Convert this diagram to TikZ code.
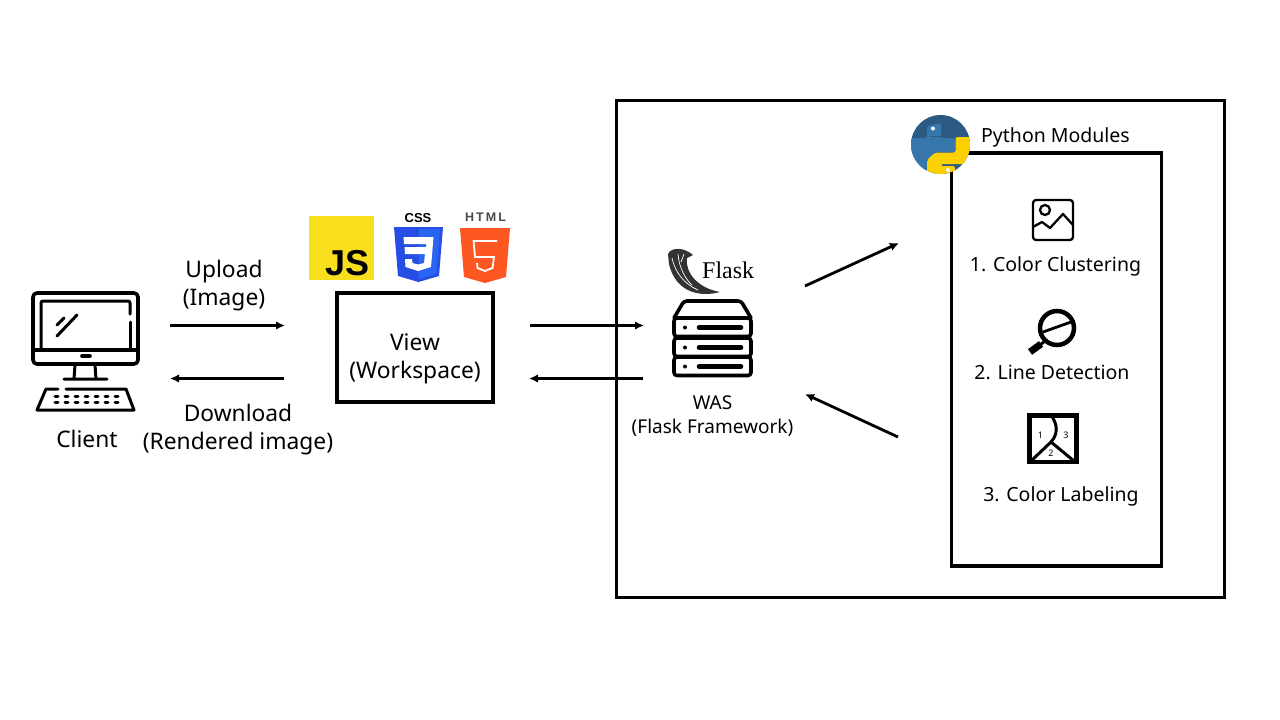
\documentclass[tikz,border=0pt]{standalone}
\usepackage{fontspec}
\setmainfont{Noto Sans}
\newfontfamily\flaskfont{Liberation Serif}
\newfontfamily\logofont{Liberation Sans}
\usetikzlibrary{arrows.meta}

\definecolor{jsyellow}{HTML}{F7DF1E}
\definecolor{cssblue}{HTML}{264DE4}
\definecolor{csslight}{HTML}{2965F1}
\definecolor{htmlorange}{HTML}{FF5722}
\definecolor{pydark}{HTML}{2B5B84}
\definecolor{pyblue}{HTML}{3776AB}
\definecolor{pyyellow}{HTML}{FBD000}

\begin{document}
\begin{tikzpicture}[
   x=1pt, y=-1pt,
   box/.style={draw, line width=3.4pt, minimum width=#1, inner sep=0pt},
   flow/.style={line width=2.8pt, -{Latex[length=9pt,width=8.5pt]}},
   icon/.style={line width=3.6pt, line join=round, line cap=round},
   biglabel/.style={align=center, font=\fontsize{22.8}{28}\selectfont, inner sep=0pt},
   smalllabel/.style={align=center, font=\fontsize{19.5}{24}\selectfont, inner sep=0pt},
   every node/.append style={text=black}
]
\useasboundingbox (0,0) rectangle (1280,720);
\fill[white] (0,0) rectangle (1280,720);

% frames
\node[box=608pt, minimum height=497pt] (server) at (920.5,349) {};
\node[box=210pt, minimum height=413pt] (modules) at (1056.5,359.5) {};
\node[box=156pt, minimum height=109pt] (view) at (415,347.5) {};
\node[biglabel] (viewlabel) at (415,358.5) {View \\ (Workspace)};

% client
\draw[icon, rounded corners=4pt] (33,350) -- (33,293) -- (138,293) -- (138,364) -- (33,364) -- cycle;
\draw[icon] (33,350) -- (138,350);
\draw[icon, line width=3pt, rounded corners=2pt] (41,350) -- (41,301) -- (130,301) -- (130,314);
\draw[icon, line width=3pt] (130,322) -- (130,350);
\draw[icon, line width=3pt] (57,336) -- (77,315) (57,325) -- (64,318);
\draw[icon] (82,356) -- (90,356);
\draw[icon, line width=3pt] (75,365) -- (74,379) (95,365) -- (96,379) (64,379) -- (107,379);
\draw[icon, line width=3pt] (58,389) -- (46,389) -- (37,410) -- (134,410) -- (126,389) -- (66,389);
\foreach \i in {0,...,6} {
   \draw[line width=3pt, line cap=round] (55+\i*10,396.5) -- (58+\i*10,396.5);
   \draw[line width=3pt, line cap=round] (55+\i*10,402.5) -- (58+\i*10,402.5);
}
\node[biglabel] (client) at (87,439) {Client};

% upload / download
\coordinate (uploadA) at (170,325.5);
\coordinate (uploadB) at (285,325.5);
\coordinate (downloadA) at (284,378.5);
\coordinate (downloadB) at (170,378.5);
\draw[flow] (uploadA) -- (uploadB);
\draw[flow] (downloadA) -- (downloadB);
\node[biglabel] (upload) at (224,285.5) {Upload \\ (Image)};
\node[biglabel] (download) at (238,429.5) {Download \\ (Rendered image)};

% web logos
\fill[jsyellow] (309,216) rectangle (374,280);
\node[anchor=base east, inner sep=0pt, font=\logofont\bfseries\fontsize{36}{36}\selectfont] (js) at (370,275) {JS};

\node[inner sep=0pt, font=\logofont\bfseries\fontsize{13}{13}\selectfont] (css) at (418,218) {CSS};
\fill[cssblue] (394,227) -- (443,227) -- (439,276) -- (418.5,282) -- (398,276) -- cycle;
\fill[csslight] (418.5,229) -- (440,229) -- (436.5,274) -- (418.5,279) -- cycle;
\fill[white] (403.5,237) -- (433.5,237) -- (431,267) -- (418,271) -- (405.5,267) -- (405,259) -- (412,259) -- (412.5,263) -- (418,264.5) -- (424,263) -- (425,254) -- (405,254) -- (404.5,247) -- (426,247) -- (426.5,244) -- (404,244) -- cycle;

\node[inner sep=0pt, text=black!70, font=\logofont\bfseries\fontsize{12.5}{12.5}\selectfont] (html) at (485.5,217) {H\,T\,M\,L};
\fill[htmlorange] (460,228) -- (510,228) -- (506,277) -- (485,283) -- (464,277) -- cycle;
\draw[white, line width=1.8pt] (497,241) -- (473.5,241) -- (475,257) -- (494,257) -- (492.5,268) -- (485,271) -- (477.5,268) -- (477,263);

% view <-> was
\coordinate (requestA) at (530,325.5);
\coordinate (requestB) at (644,325.5);
\coordinate (replyA) at (643,378.5);
\coordinate (replyB) at (529,378.5);
\draw[flow] (requestA) -- (requestB);
\draw[flow] (replyA) -- (replyB);

% flask
\fill[black!80] (668,254) .. controls (671,247) and (684,247) .. (693,255) -- (687,258) .. controls (685,272) and (697,288) .. (720,292) .. controls (702,297) and (676,294) .. (669,264) -- cycle;
\draw[white, line width=.7pt] (672,258) .. controls (675,272) and (684,284) .. (698,290);
\draw[white, line width=.7pt] (678,254) .. controls (679,268) and (686,280) .. (692,285);
\draw[white, line width=.7pt] (684,254) -- (681,262);
\node[anchor=base west, inner sep=0pt, font=\flaskfont\fontsize{24}{24}\selectfont] (flask) at (702,278) {Flask};

% was
\draw[icon, rounded corners=3pt] (674,318) -- (684,301) -- (741,301) -- (751,318);
\foreach \y in {318,338,357} {
   \draw[icon, rounded corners=3pt] (674,\y) rectangle (751,\y+18.5);
   \fill (685,\y+9.5) circle (2pt);
   \draw[icon, line width=4.5pt] (699,\y+9.5) -- (741,\y+9.5);
}
\node[inner sep=0pt, align=center, font=\fontsize{19}{24}\selectfont] (was) at (712.5,416) {WAS \\ (Flask Framework)};

% was <-> modules
\coordinate (sendA) at (805,286);
\coordinate (sendB) at (899,243);
\coordinate (returnA) at (898,437);
\coordinate (returnB) at (805,394);
\draw[flow] (sendA) -- (sendB);
\draw[flow] (returnA) -- (returnB);

% python
\begin{scope}
   \clip (940.5,144.5) circle (29.5pt);
   \fill[pydark] (911,115) rectangle (970,174);
   \fill[pyblue, rounded corners=2pt] (927,126) -- (941,123) -- (941,138) -- (955,138) -- (955,152) -- (935,152) -- (927,160) -- (927,170) -- (900,170) -- (900,138) -- (927,138) -- cycle;
   \fill[pyyellow, rounded corners=2pt] (955.5,137) -- (980,137) -- (980,164) -- (941,164) -- (941,166) -- (955,166) -- (955,180) -- (927,180) -- (927,160) -- (935,152.5) -- (955.5,152.5) -- cycle;
   \draw[pydark, line width=.8pt] (930,136.5) -- (941,136.5);
   \fill[white] (933,128.5) circle (2pt) (948,170) circle (2pt);
\end{scope}
\node[smalllabel] (python) at (1055.5,137) {Python Modules};

% color clustering
\draw[icon, line width=2.3pt, rounded corners=3pt] (1033,200) rectangle (1073,240);
\draw[icon, line width=2.3pt] (1045,210) circle (5pt);
\draw[icon, line width=2.3pt] (1033,227) -- (1042,222) -- (1050,228) -- (1063,214) -- (1073,225);
\node[smalllabel] (clustering) at (1055.5,266) {1. Color Clustering};

% line detection
\draw[line width=4.5pt] (1057,328) circle (17pt);
\draw[line width=2.8pt] (1043,332) -- (1071,322);
\draw[line width=3pt] (1045,341) -- (1040,345);
\draw[line width=7pt] (1041,344) -- (1030,352);
\node[smalllabel] (detection) at (1052,372) {2. Line Detection};

% color labeling
\draw[line width=4.5pt] (1029.5,415.5) rectangle (1076.5,462);
\draw[line width=3pt] (1051,415) .. controls (1058,425) and (1058,434) .. (1051,442);
\draw[line width=3pt] (1031,461) -- (1051,442) -- (1074,461);
\node[inner sep=0pt, font=\fontsize{9}{9}\selectfont] (regionA) at (1040.5,435) {1};
\node[inner sep=0pt, font=\fontsize{9}{9}\selectfont] (regionB) at (1066,435) {3};
\node[inner sep=0pt, font=\fontsize{9}{9}\selectfont] (regionC) at (1051,453) {2};
\node[smalllabel] (labeling) at (1061,496) {3. Color Labeling};
\end{tikzpicture}
\end{document}
